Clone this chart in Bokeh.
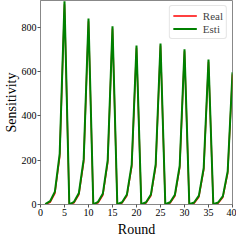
from bokeh.plotting import figure
from bokeh.models import Range1d, FixedTicker, Legend, LegendItem
from bokeh.embed import file_html
from bokeh.resources import INLINE

rounds = list(range(1, 41))
esti = [2, 15, 58, 230, 918,
        1, 12, 52, 205, 840,
        1, 12, 50, 200, 805,
        1, 10, 45, 180, 718,
        1, 10, 45, 182, 728,
        1, 10, 44, 175, 702,
        1, 9, 40, 165, 655,
        1, 9, 38, 150, 597]
real = [1, 10, 50, 215, 905,
        0, 8, 45, 192, 828,
        0, 8, 43, 188, 795,
        0, 7, 39, 170, 708,
        0, 7, 39, 171, 718,
        0, 7, 38, 165, 692,
        0, 6, 34, 155, 645,
        0, 6, 33, 141, 588]
x_ticks = [0, 5, 10, 15, 20, 25, 30, 35, 40]
y_ticks = [0, 200, 400, 600, 800]

FONT = "Liberation Serif"

p = figure(frame_width=192, frame_height=204, output_backend="svg", toolbar_location=None,
           x_range=Range1d(0, 40), y_range=Range1d(0, 922),
           min_border_left=30, min_border_right=4, min_border_top=0, min_border_bottom=26)

r_real = p.line(rounds, real, line_color="#ff0000", line_width=1.5)
r_esti = p.line(rounds, esti, line_color="#008000", line_width=2)

p.xgrid.visible = False
p.ygrid.visible = False
p.outline_line_color = "#888888"
p.outline_line_width = 1

p.xaxis.ticker = FixedTicker(ticks=x_ticks)
p.yaxis.ticker = FixedTicker(ticks=y_ticks)
for ax in (p.xaxis[0], p.yaxis[0]):
    ax.axis_line_color = "#888888"
    ax.major_tick_line_color = "#555555"
    ax.major_tick_out = 3
    ax.major_tick_in = 0
    ax.minor_tick_line_color = None
    ax.major_label_text_font = FONT
    ax.major_label_text_font_size = "10px"
    ax.major_label_text_color = "#000000"
    ax.major_label_standoff = 1
    ax.axis_label_text_font = FONT
    ax.axis_label_text_font_size = "14px"
    ax.axis_label_text_font_style = "normal"
    ax.axis_label_text_color = "#000000"
    ax.axis_label_standoff = 0
p.xaxis[0].axis_label_standoff = 3
p.xaxis.axis_label = "Round"
p.yaxis.axis_label = "Sensitivity"

legend = Legend(items=[LegendItem(label="Real", renderers=[r_real]),
                       LegendItem(label="Esti", renderers=[r_esti])],
                location="top_right", margin=5, padding=3, spacing=0,
                label_text_font=FONT, label_text_font_size="11px",
                label_height=13, glyph_height=13, glyph_width=24,
                label_standoff=6,
                border_line_color="#cccccc", border_line_width=1,
                background_fill_alpha=0.8)
try:
    legend.border_radius = 3
except Exception:
    pass
p.add_layout(legend)

open("out.html", "w").write(file_html(p, INLINE))
